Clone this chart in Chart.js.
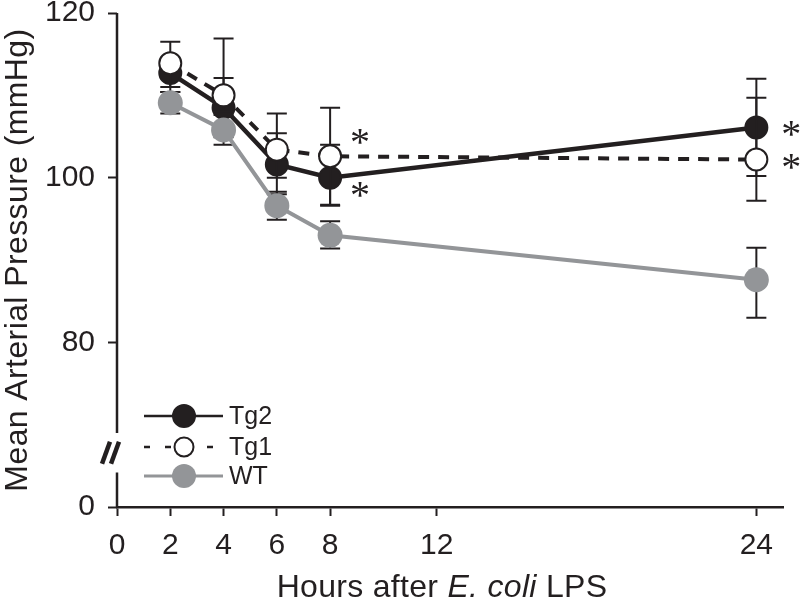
<!DOCTYPE html>
<html><head><meta charset="utf-8">
<script src="https://cdn.jsdelivr.net/npm/chart.js@4/dist/chart.umd.min.js"></script>
<style>html,body{margin:0;padding:0;background:#fff}#wrap{width:800px;height:600px;position:relative}</style>
</head><body><div id="wrap"><canvas id="c"></canvas></div>
<script>
// ---- data ----
const hours = [2, 4, 6, 8, 24];
const tg2 = [112.7, 108.5, 101.6, 100.0, 106.1];
const tg2ErrUp = [1.8, 3.6, 3.8, 4.0, 5.9];
const tg2ErrDown = [1.7, 3.6, 3.6, 3.4, 5.9];
const tg1 = [113.9, 110.0, 103.4, 102.6, 102.2];
const tg1ErrUp = [2.6, 6.9, 4.4, 5.9, 7.5];
const tg1ErrDown = [3.5, 2.0, 3.4, 5.9, 5.0];
const wt = [109.1, 105.8, 96.6, 93.0, 87.6];
const wtErrUp = [1.3, 1.8, 1.7, 1.7, 3.9];
const wtErrDown = [1.3, 1.8, 1.7, 1.6, 4.6];
const xTicks = [0, 2, 4, 6, 8, 12, 24];
const yTicks = [60, 80, 100, 120];           // 60 sits at the broken-axis origin
const yTickLabels = ['0', '80', '100', '120'];
const significant = [
  { series: 'Tg1', index: 3 },
  { series: 'Tg2', index: 3 },
  { series: 'Tg2', index: 4 },
  { series: 'Tg1', index: 4 }
];
const legendItems = ['Tg2', 'Tg1', 'WT'];
const xTitleParts = [['Hours after ', false], ['E. coli', true], [' LPS', false]];
const yTitle = 'Mean Arterial Pressure (mmHg)';

// ---- styles ----
const BLACK = '#231f20', GRAY = '#939598';
const FONT = '"Liberation Sans", Arial, Helvetica, sans-serif';
const styles = {
  Tg2: { color: BLACK, fill: BLACK, dash: [], width: 4.5, radius: 11, bw: 2, legDash: [], legW: 2.5 },
  Tg1: { color: BLACK, fill: '#ffffff', dash: [11, 9], width: 4, radius: 11, bw: 2, legDash: [6, 15], legW: 2.5 },
  WT:  { color: GRAY, fill: GRAY, dash: [], width: 4, radius: 12.5, bw: 0, legDash: [], legW: 3 }
};

function pts(vals) { return hours.map((h, i) => ({ x: h, y: vals[i] })); }
function mk(label, vals, up, down) {
  const s = styles[label];
  return {
    label, data: pts(vals), errUp: up, errDown: down,
    borderColor: s.color, borderWidth: s.width, borderDash: s.dash,
    pointRadius: s.radius, pointHoverRadius: s.radius,
    pointBackgroundColor: s.fill, pointBorderColor: s.color, pointBorderWidth: s.bw,
    tension: 0, clip: false, fill: false
  };
}
// index 0 is drawn on top
const datasets = [
  mk('WT', wt, wtErrUp, wtErrDown),
  mk('Tg1', tg1, tg1ErrUp, tg1ErrDown),
  mk('Tg2', tg2, tg2ErrUp, tg2ErrDown)
];

const errorBars = {
  id: 'errorBars',
  beforeDatasetDraw(chart, args) {
    const ds = chart.data.datasets[args.index];
    const xs = chart.scales.x, ys = chart.scales.y, ctx = chart.ctx;
    ctx.save();
    ctx.strokeStyle = BLACK; ctx.lineWidth = 2; ctx.setLineDash([]);
    ds.data.forEach((p, i) => {
      const x = xs.getPixelForValue(p.x);
      const yT = ys.getPixelForValue(p.y + ds.errUp[i]);
      const yB = ys.getPixelForValue(p.y - ds.errDown[i]);
      ctx.beginPath();
      ctx.moveTo(x, yT); ctx.lineTo(x, yB);
      ctx.moveTo(x - 10, yT); ctx.lineTo(x + 10, yT);
      ctx.moveTo(x - 10, yB); ctx.lineTo(x + 10, yB);
      ctx.stroke();
    });
    ctx.restore();
  }
};

const brokenAxis = {
  id: 'brokenAxis',
  beforeDatasetsDraw(chart) {
    const ctx = chart.ctx, ys = chart.scales.y, a = chart.chartArea;
    const x = a.left;
    const gapTop = ys.getPixelForValue(69.0), gapBot = ys.getPixelForValue(64.2);
    ctx.save();
    ctx.strokeStyle = BLACK; ctx.lineWidth = 2.5;
    ctx.beginPath();
    ctx.moveTo(x, a.top); ctx.lineTo(x, gapTop);
    ctx.moveTo(x, gapBot); ctx.lineTo(x, a.bottom);
    ctx.stroke();
    const cy = (gapTop + gapBot) / 2;
    ctx.lineWidth = 4.5;
    [-6, 3].forEach(off => {
      ctx.beginPath();
      ctx.moveTo(x + off - 9, cy + 11);
      ctx.lineTo(x + off - 1, cy - 11);
      ctx.stroke();
    });
    ctx.restore();
  }
};

const starOffsets = [[30, -20], [30, 12], [35, 1], [35, 2]];
const stars = {
  id: 'stars',
  afterDatasetsDraw(chart) {
    const ctx = chart.ctx, xs = chart.scales.x, ys = chart.scales.y;
    const series = { Tg2: tg2, Tg1: tg1, WT: wt };
    ctx.save();
    ctx.fillStyle = BLACK;
    ctx.font = '40px "Liberation Serif", "Times New Roman", serif';
    ctx.textAlign = 'center'; ctx.textBaseline = 'alphabetic';
    const m = ctx.measureText('*');
    const mid = (m.actualBoundingBoxAscent - m.actualBoundingBoxDescent) / 2;
    significant.forEach((s, k) => {
      const px = xs.getPixelForValue(hours[s.index]) + starOffsets[k][0];
      const py = ys.getPixelForValue(series[s.series][s.index]) + starOffsets[k][1];
      ctx.fillText('*', px, py + mid);
    });
    ctx.restore();
  }
};

const titles = {
  id: 'titles',
  afterDraw(chart) {
    const ctx = chart.ctx, a = chart.chartArea;
    ctx.save();
    ctx.fillStyle = BLACK;
    ctx.font = '32px ' + FONT;
    ctx.letterSpacing = '0.4px';
    ctx.textAlign = 'center'; ctx.textBaseline = 'middle';
    ctx.translate(18, (a.top + a.bottom) / 2);
    ctx.rotate(-Math.PI / 2);
    ctx.fillText(yTitle, 0, 0);
    ctx.restore();

    ctx.save();
    ctx.fillStyle = BLACK; ctx.textBaseline = 'alphabetic'; ctx.textAlign = 'left';
    ctx.letterSpacing = '0.3px';
    const fonts = xTitleParts.map(p => (p[1] ? 'italic ' : '') + '32px ' + FONT);
    let total = 0;
    const widths = xTitleParts.map((p, i) => { ctx.font = fonts[i]; const w = ctx.measureText(p[0]).width; total += w; return w; });
    let x = 442 - total / 2;
    xTitleParts.forEach((p, i) => { ctx.font = fonts[i]; ctx.fillText(p[0], x, 597); x += widths[i]; });
    ctx.restore();
  }
};

const legend = {
  id: 'customLegend',
  afterDraw(chart) {
    const ctx = chart.ctx, a = chart.chartArea;
    const rowsY = [416, 447, 476];
    const x0 = a.left + 27, x1 = a.left + 106, xm = a.left + 67;
    ctx.save();
    legendItems.forEach((name, i) => {
      const s = styles[name], y = rowsY[i];
      ctx.strokeStyle = s.color; ctx.lineWidth = s.legW; ctx.setLineDash(s.legDash);
      ctx.beginPath(); ctx.moveTo(x0, y); ctx.lineTo(x1, y); ctx.stroke();
      ctx.setLineDash([]);
      ctx.beginPath(); ctx.arc(xm, y, name === 'Tg1' ? 9.5 : (name === 'WT' ? 12 : 11), 0, Math.PI * 2);
      ctx.fillStyle = s.fill; ctx.fill();
      if (s.bw) { ctx.lineWidth = 2; ctx.strokeStyle = s.color; ctx.stroke(); }
      ctx.fillStyle = BLACK; ctx.font = '25px ' + FONT;
      ctx.textAlign = 'left'; ctx.textBaseline = 'middle';
      ctx.fillText(name, a.left + 112, y + 1);
    });
    ctx.restore();
  }
};

new Chart(document.getElementById('c'), {
  type: 'line',
  data: { datasets },
  plugins: [errorBars, brokenAxis, stars, titles, legend],
  options: {
    responsive: true, maintainAspectRatio: false, animation: false,
    layout: { padding: { top: 7, right: 17, left: 0, bottom: 0 } },
    plugins: { legend: { display: false }, tooltip: { enabled: false } },
    scales: {
      x: {
        type: 'linear', min: 0, max: 25,
        afterBuildTicks: s => { s.ticks = xTicks.map(v => ({ value: v })); },
        afterFit: s => { s.height = 93; s.paddingLeft = 0; s.paddingRight = 0; },
        ticks: { color: BLACK, font: { family: FONT, size: 30 }, padding: 12, maxRotation: 0, autoSkip: false },
        grid: { display: true, drawOnChartArea: false, drawTicks: true, tickLength: 9, tickColor: BLACK, tickWidth: 2 },
        border: { display: true, color: BLACK, width: 2.5 }
      },
      y: {
        type: 'linear', min: 60, max: 120,
        afterBuildTicks: s => { s.ticks = yTicks.map(v => ({ value: v })); },
        afterFit: s => { s.width = 117; s.paddingTop = 0; s.paddingBottom = 0; },
        ticks: { color: BLACK, font: { family: FONT, size: 30 }, padding: 13, autoSkip: false,
          callback: (v) => { const k = yTicks.indexOf(v); return k >= 0 ? yTickLabels[k] : ''; } },
        grid: { display: true, drawOnChartArea: false, drawTicks: true, tickLength: 9, tickColor: BLACK, tickWidth: 2 },
        border: { display: false }
      }
    }
  }
});
</script>
</body></html>
